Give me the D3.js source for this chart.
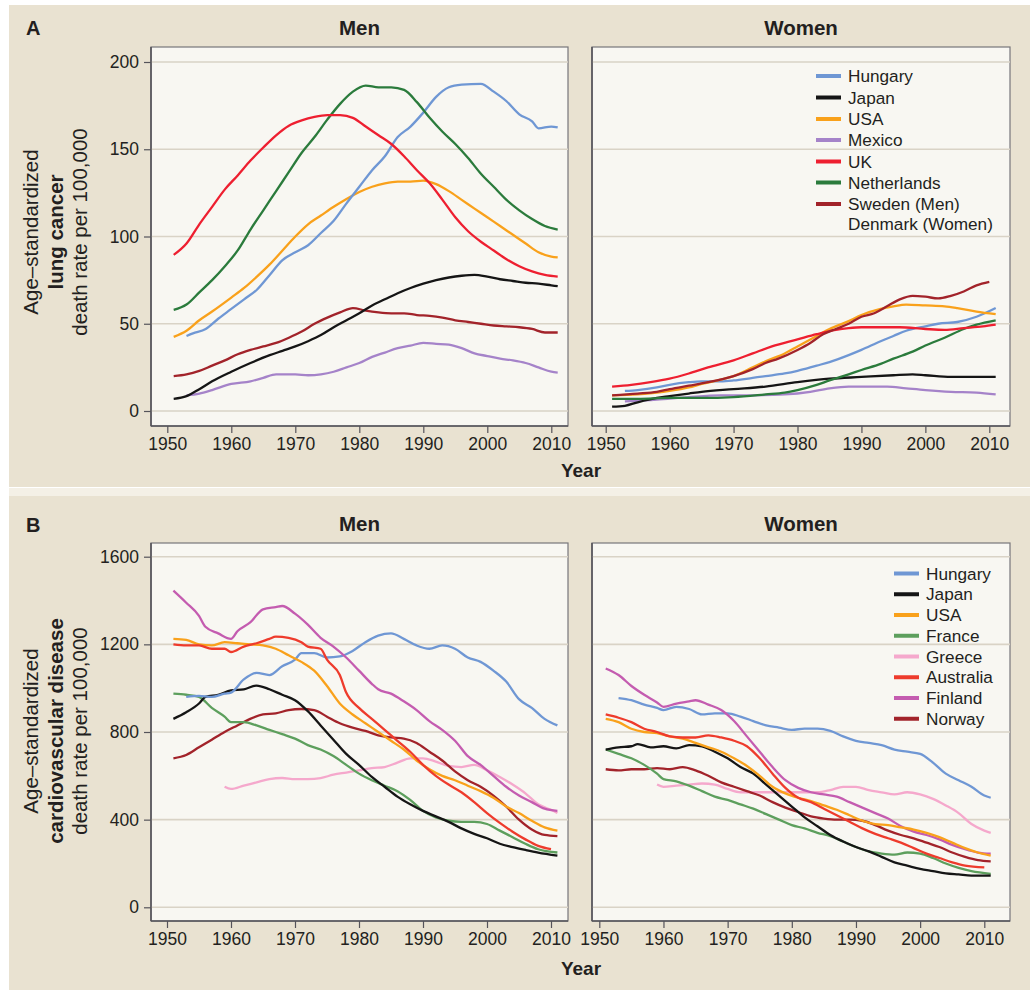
<!DOCTYPE html>
<html>
<head>
<meta charset="utf-8">
<script src="https://cdn.jsdelivr.net/npm/d3@7"></script>
<style>
body { margin: 0; background: #fff; }
text { font-family: "Liberation Sans", Arial, Helvetica, sans-serif; fill: #231f20; }
</style>
</head>
<body>
<script>
// ---- data ----
const xTicks = [1950, 1960, 1970, 1980, 1990, 2000, 2010];
const lungTicks = [0, 50, 100, 150, 200];
const cvdTicks = [0, 400, 800, 1200, 1600];

const lungCountries = ["Hungary", "Japan", "USA", "Mexico", "UK", "Netherlands", "Sweden"];
const lungLabels = ["Hungary", "Japan", "USA", "Mexico", "UK", "Netherlands", "Sweden (Men)\nDenmark (Women)"];
const cvdCountries = ["Hungary", "Japan", "USA", "France", "Greece", "Australia", "Finland", "Norway"];

const colors = {
  Hungary: "#6f97d4", Japan: "#151515", USA: "#f9a11b", Mexico: "#a583c9",
  UK: "#ee1f30", Netherlands: "#2b7b3c", Sweden: "#a2232a",
  France: "#5d9f5d", Greece: "#f5a8cc", Australia: "#ee3b2c", Finland: "#c45cb0", Norway: "#a2232a"
};

const lungMen = {
  Hungary: [[1953,43],[1954,44.5],[1956,47],[1958,53],[1960,58.5],[1962,64],[1964,69.5],[1966,78],[1968,86.5],[1970,91],[1972,95],[1974,102],[1976,109],[1978,119],[1980,128.5],[1982,138],[1984,146],[1986,157],[1988,163],[1990,171],[1992,180],[1994,185.5],[1996,187],[1999,187.5],[2001,183],[2003,177.5],[2005,170],[2007,166],[2008,162],[2010,163],[2011,162.5]],
  Japan: [[1951,7],[1953,8.5],[1955,12.5],[1957,17],[1960,22.5],[1963,27.5],[1966,32],[1968,34.5],[1970,37],[1972,40],[1974,43.5],[1976,48],[1978,52],[1980,56],[1982,60.5],[1984,64],[1986,67.5],[1988,70.5],[1990,73],[1992,75],[1994,76.5],[1996,77.5],[1998,78],[2000,77],[2002,75.5],[2004,74.5],[2006,73.5],[2008,73],[2010,72],[2011,71.5]],
  USA: [[1951,42.5],[1953,46],[1955,52],[1957,57],[1960,65],[1962,70.5],[1964,77],[1966,84],[1968,92],[1970,100],[1972,107],[1974,112],[1976,117],[1978,121.5],[1980,125.5],[1982,128.5],[1984,130.5],[1986,131.5],[1988,131.5],[1990,132],[1992,130],[1994,126],[1996,121],[1998,116],[2000,111],[2002,106],[2004,101],[2006,96],[2008,91],[2010,88.5],[2011,88]],
  Mexico: [[1953,9],[1955,10],[1957,12],[1960,15.5],[1963,17],[1965,19],[1967,21],[1970,21],[1972,20.5],[1974,21],[1976,22.5],[1978,25],[1980,27.5],[1982,31],[1984,33.5],[1986,36],[1988,37.5],[1990,39],[1992,38.5],[1994,38],[1996,36],[1998,33],[2000,31.5],[2002,30],[2004,29],[2006,27.5],[2008,25],[2010,22.5],[2011,22]],
  UK: [[1951,89.5],[1953,96],[1955,107],[1957,117],[1959,127],[1961,135],[1963,143.5],[1965,151],[1967,158],[1969,163.5],[1971,166.5],[1973,168.5],[1975,169.5],[1977,169.5],[1979,168],[1981,163],[1983,158],[1985,153],[1987,146],[1989,138],[1991,130.5],[1993,121],[1995,111],[1997,103],[1999,97],[2001,92],[2003,87],[2005,83],[2007,80],[2009,78],[2011,77]],
  Netherlands: [[1951,58],[1953,61],[1955,68],[1957,75],[1959,83],[1961,92],[1963,104],[1965,115],[1967,126],[1969,137],[1971,148],[1973,157],[1975,167],[1977,176],[1979,183],[1981,186.5],[1983,185.5],[1985,185.5],[1987,184],[1989,177],[1991,168],[1993,160],[1995,153],[1997,145],[1999,136],[2001,128.5],[2003,121],[2005,115],[2007,110],[2009,106],[2011,104]],
  Sweden: [[1951,20],[1953,21],[1955,23],[1957,26],[1959,29],[1961,32.5],[1963,35],[1965,37],[1967,39],[1969,42],[1971,45.5],[1973,50],[1975,53.5],[1977,56.5],[1979,59],[1981,57.5],[1983,56.5],[1985,56],[1987,56],[1989,55],[1991,54.5],[1993,53.5],[1995,52],[1997,51],[1999,50],[2001,49],[2003,48.5],[2005,48],[2007,47],[2009,45],[2011,45]]
};

const lungWomen = {
  Hungary: [[1953,11.5],[1955,12],[1958,13.5],[1960,15],[1963,16.5],[1965,17],[1968,17],[1970,17.5],[1973,19],[1975,20],[1978,21.5],[1980,23],[1983,26],[1985,28],[1988,32],[1990,35],[1993,40],[1995,43],[1997,46],[2000,48.5],[2002,50],[2005,51],[2008,54],[2011,59]],
  Japan: [[1951,2.5],[1953,3],[1955,5],[1958,7.5],[1960,8.5],[1963,10],[1965,11],[1970,12.5],[1975,14],[1980,16.5],[1985,18.5],[1990,19.5],[1995,20.5],[1998,21],[2000,20.5],[2004,19.5],[2008,19.5],[2011,19.5]],
  USA: [[1951,9],[1955,9.5],[1958,10.5],[1960,11.5],[1963,13.5],[1965,15.5],[1968,18],[1970,20],[1973,25],[1975,28.5],[1978,33],[1980,37],[1983,43],[1985,47],[1988,51.5],[1990,55],[1993,58.5],[1995,60],[1997,61],[2000,60.5],[2003,60],[2005,59],[2008,57],[2011,55.5]],
  Mexico: [[1953,5.5],[1958,6.5],[1963,8],[1968,9],[1973,9],[1978,9.5],[1982,11],[1985,13],[1988,14],[1990,14],[1994,14],[1997,13],[2000,12],[2004,11],[2008,10.5],[2011,9.5]],
  UK: [[1951,14],[1954,15],[1957,16.5],[1960,18.5],[1963,21.5],[1966,25],[1970,29],[1973,33],[1976,37],[1980,41],[1983,44],[1986,46.5],[1988,47.5],[1990,48],[1993,48],[1996,48],[2000,47],[2003,46.5],[2006,47.5],[2009,48.5],[2011,49.5]],
  Netherlands: [[1951,7],[1955,7],[1960,7.5],[1965,7.5],[1970,8],[1975,9.5],[1978,10.5],[1980,12],[1983,15],[1985,17.5],[1988,21],[1990,23.5],[1993,27],[1995,30],[1998,34],[2000,37.5],[2003,42],[2006,47],[2008,49.5],[2011,52]],
  Sweden: [[1951,9],[1955,10],[1958,11],[1960,12.5],[1963,14.5],[1966,16.5],[1970,20],[1973,24],[1975,27.5],[1977,30],[1980,35],[1982,39],[1984,44],[1986,47],[1988,50],[1990,54],[1992,56],[1994,60],[1996,64],[1998,66],[2000,65.5],[2002,64.5],[2004,66],[2006,68.5],[2008,72],[2010,74]]
};

const cvdMen = {
  Hungary: [[1953,960],[1955,965],[1957,960],[1959,975],[1960,980],[1962,1040],[1964,1070],[1966,1060],[1968,1100],[1970,1130],[1971,1160],[1973,1160],[1975,1140],[1977,1145],[1979,1170],[1981,1210],[1983,1240],[1985,1250],[1987,1225],[1989,1195],[1991,1180],[1993,1195],[1995,1180],[1997,1140],[1999,1120],[2001,1080],[2003,1030],[2005,950],[2007,910],[2009,860],[2011,830]],
  Japan: [[1951,860],[1953,890],[1955,930],[1956,960],[1958,970],[1960,990],[1962,995],[1964,1012],[1966,995],[1968,970],[1970,945],[1972,895],[1974,830],[1976,765],[1978,700],[1980,650],[1982,595],[1984,550],[1986,505],[1988,470],[1990,440],[1992,415],[1994,390],[1996,360],[1998,335],[2000,315],[2002,290],[2004,275],[2006,262],[2008,250],[2011,236]],
  USA: [[1951,1225],[1953,1220],[1955,1200],[1957,1195],[1959,1210],[1961,1205],[1963,1200],[1965,1195],[1967,1180],[1969,1150],[1971,1120],[1973,1080],[1975,1010],[1977,930],[1979,880],[1981,840],[1983,800],[1985,760],[1987,720],[1989,670],[1991,630],[1993,600],[1995,580],[1997,555],[1999,530],[2001,500],[2003,460],[2005,430],[2007,395],[2009,365],[2011,350]],
  France: [[1951,975],[1953,970],[1955,960],[1957,910],[1959,870],[1960,845],[1962,845],[1964,830],[1966,810],[1968,790],[1970,770],[1972,740],[1974,720],[1976,690],[1978,650],[1980,610],[1982,580],[1984,555],[1986,530],[1988,490],[1990,440],[1992,410],[1994,395],[1996,390],[1998,390],[2000,380],[2002,350],[2004,320],[2006,290],[2008,265],[2011,250]],
  Greece: [[1959,550],[1960,540],[1962,555],[1964,570],[1966,585],[1968,590],[1970,585],[1972,585],[1974,590],[1976,605],[1978,615],[1980,625],[1982,635],[1984,640],[1986,660],[1988,680],[1990,680],[1992,665],[1994,645],[1996,640],[1998,650],[2000,625],[2002,595],[2004,560],[2006,520],[2008,470],[2010,445],[2011,430]],
  Australia: [[1951,1200],[1953,1195],[1955,1195],[1957,1180],[1959,1180],[1960,1165],[1962,1190],[1964,1205],[1966,1225],[1967,1235],[1969,1230],[1971,1210],[1972,1190],[1974,1180],[1975,1130],[1977,1060],[1978,980],[1980,910],[1982,860],[1984,810],[1986,760],[1988,710],[1990,650],[1992,600],[1994,560],[1996,525],[1998,480],[2000,430],[2002,385],[2004,345],[2006,310],[2008,280],[2010,265]],
  Finland: [[1951,1445],[1953,1390],[1955,1330],[1956,1280],[1958,1250],[1960,1225],[1961,1260],[1963,1300],[1965,1360],[1967,1370],[1968,1375],[1970,1340],[1972,1290],[1974,1230],[1976,1190],[1978,1140],[1980,1080],[1982,1020],[1983,995],[1985,975],[1987,940],[1989,900],[1991,850],[1993,810],[1995,760],[1997,690],[1999,650],[2001,600],[2003,550],[2005,510],[2007,480],[2009,450],[2011,440]],
  Norway: [[1951,680],[1953,695],[1955,730],[1957,765],[1959,800],[1961,830],[1963,860],[1965,880],[1967,885],[1969,900],[1971,905],[1973,900],[1975,870],[1977,840],[1979,820],[1981,805],[1983,785],[1985,775],[1987,770],[1989,750],[1991,710],[1993,670],[1995,620],[1997,580],[1999,550],[2001,510],[2003,460],[2005,400],[2007,355],[2009,330],[2011,325]]
};

const cvdWomen = {
  Hungary: [[1953,955],[1955,945],[1957,925],[1959,910],[1960,900],[1962,915],[1964,905],[1966,880],[1968,885],[1970,885],[1972,870],[1974,850],[1976,830],[1978,820],[1980,810],[1982,815],[1984,815],[1986,805],[1988,780],[1990,760],[1992,750],[1994,740],[1996,720],[1998,710],[2000,700],[2002,660],[2004,610],[2006,580],[2008,550],[2010,510],[2011,500]],
  Japan: [[1951,720],[1953,730],[1955,735],[1956,745],[1958,730],[1960,735],[1962,725],[1964,740],[1966,735],[1968,710],[1970,680],[1972,640],[1974,610],[1976,560],[1978,510],[1980,460],[1982,410],[1984,370],[1986,330],[1988,300],[1990,275],[1992,255],[1994,230],[1996,205],[1998,190],[2000,175],[2002,165],[2004,155],[2006,150],[2008,145],[2011,145]],
  USA: [[1951,860],[1953,845],[1955,815],[1957,800],[1959,795],[1961,780],[1963,770],[1965,750],[1967,730],[1969,710],[1971,680],[1973,645],[1975,600],[1977,550],[1979,520],[1981,500],[1983,485],[1985,465],[1987,445],[1989,420],[1991,395],[1993,380],[1995,375],[1997,365],[1999,355],[2001,340],[2003,320],[2005,295],[2007,270],[2009,250],[2011,236]],
  France: [[1951,720],[1953,700],[1955,680],[1957,650],[1959,610],[1960,585],[1962,575],[1964,555],[1966,530],[1968,505],[1970,490],[1972,470],[1974,450],[1976,425],[1978,400],[1980,375],[1982,360],[1984,340],[1986,325],[1988,300],[1990,275],[1992,255],[1994,245],[1996,240],[1998,250],[2000,245],[2002,225],[2004,200],[2006,180],[2008,165],[2011,153]],
  Greece: [[1959,560],[1960,550],[1962,555],[1964,560],[1966,565],[1968,560],[1970,540],[1972,525],[1974,525],[1976,525],[1978,525],[1980,525],[1982,525],[1984,525],[1986,535],[1988,550],[1990,550],[1992,535],[1994,525],[1996,515],[1998,525],[2000,515],[2002,495],[2004,465],[2006,430],[2008,380],[2010,350],[2011,340]],
  Australia: [[1951,880],[1953,865],[1955,845],[1957,815],[1959,800],[1961,780],[1963,775],[1965,775],[1967,785],[1969,775],[1971,760],[1973,735],[1975,680],[1977,610],[1979,545],[1981,500],[1983,480],[1985,450],[1987,420],[1989,390],[1991,360],[1993,335],[1995,315],[1997,295],[1999,270],[2001,245],[2003,225],[2005,205],[2007,190],[2010,182]],
  Finland: [[1951,1090],[1953,1060],[1955,1010],[1957,970],[1959,935],[1960,915],[1962,930],[1964,940],[1965,945],[1967,925],[1969,900],[1971,850],[1973,780],[1975,710],[1977,640],[1979,580],[1981,545],[1983,525],[1985,515],[1987,505],[1989,480],[1991,455],[1993,430],[1995,405],[1997,370],[1999,345],[2001,330],[2003,310],[2005,285],[2007,265],[2009,250],[2011,245]],
  Norway: [[1951,630],[1953,625],[1955,630],[1957,630],[1959,635],[1961,630],[1963,640],[1965,625],[1967,600],[1969,570],[1971,550],[1973,530],[1975,510],[1977,480],[1979,455],[1981,435],[1983,415],[1985,405],[1987,400],[1989,400],[1991,395],[1993,375],[1995,350],[1997,330],[1999,315],[2001,295],[2003,275],[2005,250],[2007,230],[2009,215],[2011,210]]
};

// ---- page ----
const W = 1035, H = 994;
const svg = d3.select("body").append("svg")
    .attr("width", W).attr("height", H);

// beige backgrounds for the two figure parts
svg.append("rect").attr("x", 9).attr("y", 5).attr("width", 1021).attr("height", 482).attr("fill", "#e9e2d1");
svg.append("rect").attr("x", 9).attr("y", 488).attr("width", 1021).attr("height", 8).attr("fill", "#f4f0e6");
svg.append("rect").attr("x", 9).attr("y", 496).attr("width", 1021).attr("height", 494).attr("fill", "#e9e2d1");

const line = d3.line().curve(d3.curveMonotoneX);

function panel(o) {
    const x = d3.scaleLinear().domain([1950, 2010]).range(o.xr);
    const y = d3.scaleLinear().domain([0, o.yticks[o.yticks.length - 1]]).range(o.yr);
    const g = svg.append("g");

    g.append("rect")
        .attr("x", o.box[0]).attr("y", o.box[1])
        .attr("width", o.box[2] - o.box[0]).attr("height", o.box[3] - o.box[1])
        .attr("fill", "#f8f7f2").attr("stroke", "#77767a").attr("stroke-width", 1.2);

    // grid
    g.append("g").selectAll("line").data(o.yticks).enter().append("line")
        .attr("x1", o.box[0]).attr("x2", o.box[2])
        .attr("y1", d => y(d)).attr("y2", d => y(d))
        .attr("stroke", "#d9d3c6").attr("stroke-width", 1.6);

    // axes (women panels share the y axis of the men panels)
    const axes = [g.append("g").attr("transform", `translate(0,${o.box[3]})`)
        .call(d3.axisBottom(x).tickValues(xTicks).tickSize(7).tickPadding(5).tickFormat(d3.format("d")))];
    if (o.yaxis) {
        axes.push(g.append("g").attr("transform", `translate(${o.box[0]},0)`)
            .call(d3.axisLeft(y).tickValues(o.yticks).tickSize(7).tickPadding(5).tickFormat(d3.format("d"))));
    }
    axes.forEach(a => {
        a.select(".domain").remove();
        a.selectAll(".tick line").attr("stroke", "#55545a").attr("stroke-width", 1.2);
        a.selectAll(".tick text").attr("font-size", 17.5).attr("fill", "#231f20")
            .style("font-family", "'Liberation Sans', Arial, sans-serif");
    });
    // left and bottom axis edges a bit darker
    g.append("line").attr("x1", o.box[0]).attr("x2", o.box[0]).attr("y1", o.box[1]).attr("y2", o.box[3])
        .attr("stroke", "#55545a").attr("stroke-width", 1.6);
    g.append("line").attr("x1", o.box[0]).attr("x2", o.box[2]).attr("y1", o.box[3]).attr("y2", o.box[3])
        .attr("stroke", "#55545a").attr("stroke-width", 1.6);

    // series
    g.append("g").selectAll("path").data(o.order).enter().append("path")
        .attr("d", k => line(o.data[k].map(p => [x(p[0]), y(p[1])])))
        .attr("fill", "none")
        .attr("stroke", k => colors[k])
        .attr("stroke-width", 2.3)
        .attr("stroke-linejoin", "round");

    g.append("text").attr("x", (o.box[0] + o.box[2]) / 2).attr("y", o.box[1] - 12)
        .attr("text-anchor", "middle").attr("font-size", 20.5).attr("font-weight", "bold")
        .text(o.title);
}

// panel A
panel({ box: [151, 47, 568, 426], xr: [167.3, 551.3], yr: [411, 62], yticks: lungTicks, yaxis: true,
    data: lungMen, order: ["Mexico", "Sweden", "Japan", "USA", "Hungary", "Netherlands", "UK"], title: "Men" });
panel({ box: [592, 47, 1010, 426], xr: [605.7, 989.3], yr: [411, 62], yticks: lungTicks, yaxis: false,
    data: lungWomen, order: ["Mexico", "Japan", "Netherlands", "Hungary", "USA", "UK", "Sweden"], title: "Women" });
// panel B
panel({ box: [151, 543, 568, 921], xr: [167, 551], yr: [907.3, 556.7], yticks: cvdTicks, yaxis: true,
    data: cvdMen, order: ["Greece", "Norway", "France", "Japan", "Hungary", "USA", "Australia", "Finland"], title: "Men" });
panel({ box: [592, 543, 1010, 921], xr: [599.3, 984.3], yr: [907.3, 556.7], yticks: cvdTicks, yaxis: false,
    data: cvdWomen, order: ["Greece", "Norway", "France", "Japan", "Hungary", "Finland", "USA", "Australia"], title: "Women" });

// panel letters, x titles
svg.append("text").attr("x", 26).attr("y", 35).attr("font-size", 20).attr("font-weight", "bold").text("A");
svg.append("text").attr("x", 26).attr("y", 532).attr("font-size", 20).attr("font-weight", "bold").text("B");
svg.append("text").attr("x", 581).attr("y", 477).attr("text-anchor", "middle").attr("font-size", 19).attr("font-weight", "bold").text("Year");
svg.append("text").attr("x", 581).attr("y", 975).attr("text-anchor", "middle").attr("font-size", 19).attr("font-weight", "bold").text("Year");

// y titles (three lines each)
function yTitle(cy, bold) {
    const t = svg.append("text").attr("transform", `translate(0,${cy}) rotate(-90)`)
        .attr("text-anchor", "middle").attr("font-size", 20.5);
    [["Age\u2013standardized", 38, "normal"], [bold, 63, "bold"], ["death rate per 100,000", 87, "normal"]]
        .forEach(r => t.append("tspan").attr("x", 0).attr("y", r[1]).attr("font-weight", r[2]).text(r[0]));
}
yTitle(232, "lung cancer");
yTitle(731, "cardiovascular disease");

// legends
function legend(names, labels, x0, ys) {
    const g = svg.append("g");
    names.forEach((k, i) => {
        g.append("line").attr("x1", x0).attr("x2", x0 + 25).attr("y1", ys[i]).attr("y2", ys[i])
            .attr("stroke", colors[k]).attr("stroke-width", 4);
        labels[i].split("\n").forEach((s, j) =>
            g.append("text").attr("font-size", 17.2)
                .attr("x", x0 + 32).attr("y", ys[i] + 6.2 + j * 19.5).text(s));
    });
}
legend(lungCountries, lungLabels, 816, [76, 97.5, 119, 140, 161.5, 182.5, 204]);
legend(cvdCountries, cvdCountries, 894, d3.range(8).map(i => 573.5 + i * 20.75));
</script>
</body>
</html>
